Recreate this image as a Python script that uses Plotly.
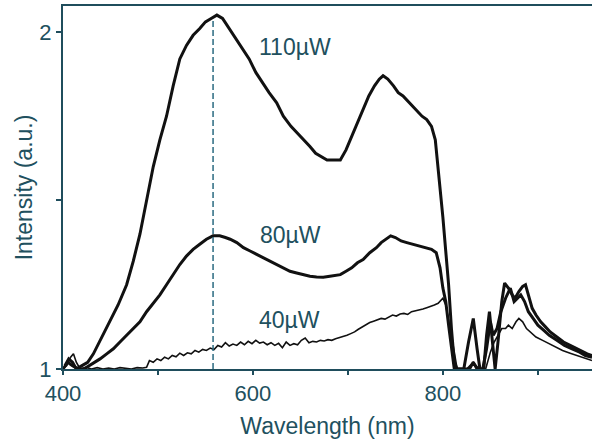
import plotly.graph_objects as go

# ---- data ----
wl_110 = [402, 406, 410, 414, 420, 426, 432, 440, 449, 458, 467, 474, 481, 488, 495, 502, 509, 516, 523, 530,
          537, 544, 550, 556, 562, 568, 575, 582, 589, 596, 603, 610, 617, 625, 632, 640, 647, 653, 660, 666,
          672, 678, 685, 692, 698, 704, 710, 716, 722, 728, 733, 737, 742, 748, 753, 758, 765, 772, 778, 783,
          788, 792, 795, 797, 800, 803, 806, 809, 812, 815, 822, 827, 832, 836, 839, 843, 846, 849, 852, 855,
          858, 862, 865, 869, 873, 876, 880, 884, 887, 890, 894, 898, 903, 908, 913, 920, 927, 934, 941, 947,
          952, 957]
int_110 = [1.01, 1.03, 1.02, 1.00, 1.01, 1.02, 1.045, 1.09, 1.14, 1.19, 1.25, 1.32, 1.40, 1.50, 1.60, 1.68, 1.75, 1.84, 1.92, 1.96,
           1.99, 2.01, 2.03, 2.04, 2.05, 2.04, 2.01, 1.98, 1.95, 1.92, 1.88, 1.85, 1.82, 1.79, 1.75, 1.72, 1.70, 1.68, 1.66, 1.64,
           1.63, 1.62, 1.62, 1.62, 1.65, 1.69, 1.73, 1.77, 1.81, 1.84, 1.86, 1.87, 1.86, 1.84, 1.82, 1.81, 1.79, 1.77, 1.75, 1.74,
           1.72, 1.68, 1.60, 1.55, 1.45, 1.35, 1.25, 1.12, 1.02, 1.00, 1.00, 1.08, 1.15, 1.06, 1.00, 1.00, 1.10, 1.17, 1.08, 1.00,
           1.08, 1.20, 1.255, 1.24, 1.22, 1.21, 1.23, 1.245, 1.25, 1.22, 1.18, 1.16, 1.14, 1.125, 1.11, 1.095, 1.08, 1.07, 1.06, 1.05,
           1.045, 1.04]

wl_80 = [400, 405, 410, 416, 422, 428, 434, 439, 446, 453, 460, 467, 474, 481, 488, 495, 502, 509, 516, 523,
         530, 537, 544, 551, 558, 565, 571, 576, 583, 590, 597, 604, 611, 618, 625, 632, 639, 646, 653, 660,
         667, 674, 681, 687, 692, 698, 704, 710, 716, 723, 730, 735, 740, 745, 750, 756, 762, 768, 775, 782,
         788, 793, 797, 800, 803, 806, 809, 812, 820, 828, 832, 836, 842, 846, 850, 853, 857, 861, 866, 871,
         875, 878, 882, 886, 890, 895, 900, 906, 912, 920, 928, 936, 944, 950, 957]
int_80 = [1.00, 1.02, 1.01, 1.00, 1.00, 1.01, 1.02, 1.03, 1.045, 1.06, 1.08, 1.10, 1.12, 1.14, 1.17, 1.195, 1.22, 1.25, 1.28, 1.31,
          1.335, 1.355, 1.37, 1.385, 1.395, 1.395, 1.39, 1.385, 1.375, 1.36, 1.35, 1.34, 1.33, 1.32, 1.31, 1.30, 1.29, 1.285, 1.28, 1.275,
          1.273, 1.272, 1.275, 1.278, 1.28, 1.29, 1.30, 1.315, 1.325, 1.345, 1.36, 1.375, 1.385, 1.395, 1.39, 1.38, 1.375, 1.37, 1.365, 1.36,
          1.355, 1.345, 1.30, 1.24, 1.20, 1.13, 1.07, 1.00, 1.00, 1.00, 1.02, 1.00, 1.00, 1.06, 1.14, 1.10, 1.12, 1.17, 1.21, 1.24,
          1.20, 1.21, 1.22, 1.20, 1.17, 1.15, 1.13, 1.115, 1.10, 1.085, 1.07, 1.06, 1.05, 1.04, 1.035]

wl_40 = [400, 404, 408, 411, 414, 418, 424, 430, 436, 442, 448, 454, 460, 466, 472, 478, 484, 488, 491, 495,
         499, 503, 507, 511, 515, 519, 523, 527, 531, 535, 539, 543, 547, 551, 555, 559, 563, 567, 571, 575,
         579, 583, 587, 591, 595, 599, 603, 607, 611, 615, 619, 623, 627, 631, 635, 639, 643, 647, 651, 655,
         659, 663, 667, 671, 675, 679, 683, 687, 691, 695, 699, 703, 707, 711, 715, 719, 723, 727, 731, 735,
         739, 743, 747, 751, 755, 759, 763, 767, 771, 775, 779, 783, 787, 791, 795, 798, 800, 803, 806, 809,
         812, 815, 825, 832, 838, 845, 850, 854, 858, 862, 866, 869, 873, 877, 880, 884, 888, 892, 898, 905,
         912, 920, 926, 934, 941, 947, 952, 957]
int_40 = [1.00, 1.01, 1.035, 1.045, 1.02, 1.00, 1.005, 1.00, 1.004, 1.00, 1.003, 1.00, 1.004, 1.002, 1.00, 1.004, 1.003, 1.005, 1.025, 1.02,
          1.03, 1.025, 1.035, 1.03, 1.04, 1.036, 1.047, 1.04, 1.048, 1.045, 1.055, 1.05, 1.058, 1.055, 1.062, 1.058, 1.07, 1.065, 1.078, 1.068,
          1.074, 1.07, 1.08, 1.072, 1.082, 1.075, 1.085, 1.077, 1.08, 1.072, 1.078, 1.07, 1.076, 1.063, 1.08, 1.07, 1.075, 1.072, 1.085, 1.092,
          1.078, 1.082, 1.08, 1.085, 1.083, 1.087, 1.085, 1.09, 1.093, 1.097, 1.10, 1.105, 1.11, 1.118, 1.125, 1.13, 1.138, 1.142, 1.145, 1.15,
          1.148, 1.155, 1.16, 1.157, 1.163, 1.165, 1.162, 1.17, 1.172, 1.175, 1.178, 1.182, 1.185, 1.19, 1.195, 1.205, 1.21, 1.19, 1.15, 1.10,
          1.05, 1.00, 1.00, 1.02, 1.00, 1.00, 1.05, 1.08, 1.10, 1.12, 1.12, 1.13, 1.12, 1.14, 1.15, 1.14, 1.12, 1.11, 1.095, 1.085,
          1.075, 1.065, 1.055, 1.047, 1.04, 1.035, 1.03, 1.025]

peak_wl = 558
peak_top = 2.04

labels = ["110\u00b5W", "80\u00b5W", "40\u00b5W"]
label_x = [644, 640, 639]
label_y = [1.955, 1.398, 1.145]

x_tickvals = [400, 500, 600, 700, 800, 900]
x_ticktext = ["400", "", "600", "", "800", ""]
y_tickvals = [1, 1.5, 2]
y_ticktext = ["1", "", "2"]

TEXT = "#21505e"
AXIS = "#1f4d5c"
FONT = "Liberation Sans, Arial, sans-serif"

fig = go.Figure()
fig.add_trace(go.Scatter(x=wl_40, y=int_40, mode="lines", line=dict(color="#111111", width=1.6)))
fig.add_trace(go.Scatter(x=wl_80, y=int_80, mode="lines", line=dict(color="#111111", width=3)))
fig.add_trace(go.Scatter(x=wl_110, y=int_110, mode="lines", line=dict(color="#111111", width=3)))
fig.add_trace(go.Scatter(x=[peak_wl, peak_wl], y=[1, peak_top], mode="lines",
                         line=dict(color="#2a6a80", width=1.5, dash="6px,3px")))

for t, xx, yy in zip(labels, label_x, label_y):
    fig.add_annotation(x=xx, y=yy, text=t, showarrow=False,
                       font=dict(family=FONT, size=23, color=TEXT))

fig.update_layout(
    width=592, height=441,
    margin=dict(l=63, r=0, t=6, b=72),
    paper_bgcolor="white", plot_bgcolor="white",
    showlegend=False,
    font=dict(family=FONT, size=22, color=TEXT),
)
fig.update_xaxes(range=[400, 957], tickvals=x_tickvals, ticktext=x_ticktext,
                 showgrid=False, zeroline=False, showline=True, linecolor=AXIS, linewidth=2,
                 mirror=True, ticks="outside", ticklen=4, tickwidth=1.5, tickcolor=AXIS,
                 title=dict(text="Wavelength (nm)", font=dict(size=23, color=TEXT), standoff=12),
                 tickfont=dict(size=22, color=TEXT))
fig.update_yaxes(range=[1, 2.077], tickvals=y_tickvals, ticktext=y_ticktext,
                 showgrid=False, zeroline=False, showline=True, linecolor=AXIS, linewidth=2,
                 ticks="outside", ticklen=5, tickwidth=1.5, tickcolor=AXIS,
                 title=dict(text="Intensity (a.u.)", font=dict(size=23, color=TEXT), standoff=0),
                 tickfont=dict(size=22, color=TEXT))

fig.write_html("out.html")
